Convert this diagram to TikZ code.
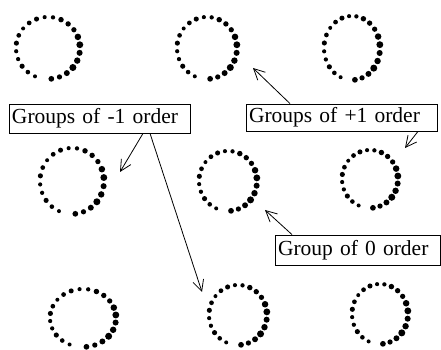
\documentclass[tikz,border=0pt]{standalone}
\usepackage{fontspec}
\setmainfont{Liberation Serif}
\usetikzlibrary{arrows.meta,calc}
\begin{document}
\begin{tikzpicture}[x=1pt,y=1pt,
  ringnode/.style={circle,minimum size=60pt,inner sep=0pt},
  label box/.style={draw,line width=0.8pt,rectangle,inner xsep=3pt,inner ysep=0pt,align=left,font=\fontsize{21.5}{24}\selectfont,anchor=center},
  pointer/.style={line width=0.8pt,-{Straight Barb[length=11pt,width=11pt,line width=0.8pt]}}]
\useasboundingbox[fill=white] (0,0) rectangle (441,350);
\foreach \n/\x/\y/\rx/\ry in {c1/48/302/32/31, c2/207/302/30/31, c3/352/302/28/32,
  c4/72/169/32/33, c5/228/169/29/30, c6/370/171/28/29,
  c7/83/32/33/29, c8/238/35/29/30, c9/380/36/28/30}{
  \node[ringnode] (\n) at (\x,\y) {};
  \foreach \a in {-84,-69,...,250}
    \fill ($(\n.center)+({\rx*cos(\a)},{\ry*sin(\a)})$) circle[radius={(2.3+1.0*max(0,cos(\a+15))+0.3*sin(7*\a))*1pt}];
}
\node[label box,text width=175pt,minimum height=29pt] (m1) at (99.5,231.5) {Groups of -1 order};
\node[label box,text width=185pt,minimum height=27pt] (p1) at (341.5,232.5) {Groups of +1 order};
\node[label box,text width=159pt,minimum height=30pt] (z0) at (357.5,100) {Group of 0 order};
\coordinate (t1) at (120,178);
\coordinate (t2) at (202,58);
\coordinate (t3) at (253,282);
\coordinate (t4) at (405,202);
\coordinate (t5) at (265,140);
\draw[pointer] ([xshift=43.5pt]m1.south) -- (t1);
\draw[pointer] ([xshift=50.5pt]m1.south) -- (t2);
\draw[pointer] ([xshift=-51.5pt]p1.north) -- (t3);
\draw[pointer] ([xshift=76.5pt]p1.south) -- (t4);
\draw[pointer] ([xshift=-65.5pt]z0.north) -- (t5);
\end{tikzpicture}
\end{document}
